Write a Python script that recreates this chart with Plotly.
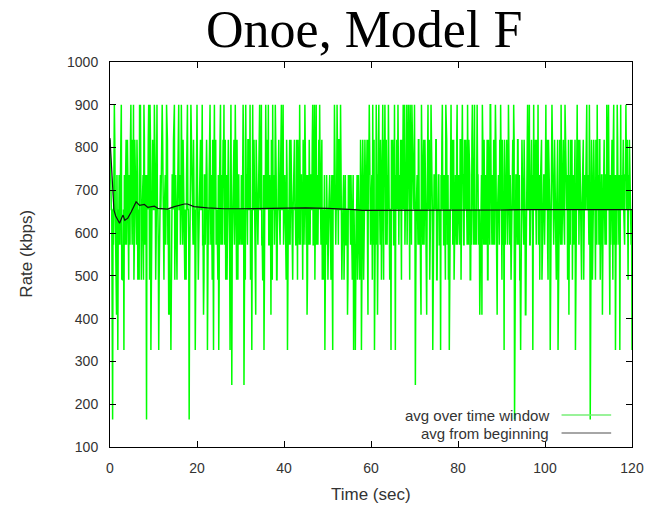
import itertools
import plotly.graph_objects as go

# Discrete rate levels (kbps) seen in the "avg over time window" trace
LEVELS = [164, 245, 327, 409, 491, 573, 655, 736, 818, 900]
SAMPLE_STEP = 0.1  # seconds between samples

# Level index per sample (digit -> LEVELS[digit]); one string per 10 s.
# WINDOW_A holds samples at t = 0.0, 0.2, 0.4 ... ; WINDOW_B those at t = 0.1, 0.3, 0.5 ...
WINDOW_A = [
    "8760596572" "5679542675" "8675968957" "6845994679" "5706879268",
    "6975962578" "9647598653" "2678956479" "6597864579" "6059768526",
    "9657869547" "6826795682" "9756427965" "8964758629" "1675968476",
    "6759169758" "6952967486" "5796954279" "6895637965" "9746857969",
    "6758267586" "4786578695" "7685967468" "5769596975" "8967465267",
    "6576472697" "6958697564" "7563765746" "2526756482" "6758675896",
    "6795269759" "6847689567" "9562785926" "7956846975" "6979695976",
    "9167586496" "7586376859" "6257684675" "2697569864" "2697586759",
    "6758697568" "6957468759" "6597635796" "8576486975" "6859637689",
    "6852678596" "7468906758" "6426758637" "9695762968" "5796478567",
    "6975862697" "5864726857" "6859764865" "7865726975" "8647856796",
    "6906758647" "9658673685" "7969576849" "6279652976" "8579647865",
    "2",
]
WINDOW_B = [
    "7646785346" "7584467586" "7468756486" "5764865748" "6576948576",
    "6847654767" "8467685364" "5769475686" "7685746486" "5478657647",
    "7468675375" "6745867467" "6865749576" "7586476576" "5786746756",
    "5678647686" "7467685375" "6867547468" "7657684676" "8467658675",
    "7647658675" "6765847567" "6476853756" "7685748567" "6758647656",
    "4675647685" "6758674676" "7564675647" "6546476576" "8467683765",
    "7468657386" "5769476856" "7468675678" "6576487696" "7568475867",
    "6476856365" "8675697468" "6576846756" "7865748576" "5768647685",
    "7684675867" "5687459675" "6875647385" "7658475967" "5678467568",
    "4768567685" "6576847685" "7468657358" "6756874676" "8657684675",
    "7684765786" "6756847695" "7658675378" "6476857686" "7568476867",
    "5768467685" "6784675867" "5687357685" "7658674678" "6576846756",
    "",
]

# "avg from beginning" curve
AVG_T = [0, 0.4, 0.9, 1.3, 1.8, 2.2, 2.7, 3.0, 3.4, 4.1, 4.9, 5.5, 6.0, 6.8, 7.9,
         8.7, 10.2, 11.0, 13.2, 14.8, 17.1, 17.8, 19.3, 22.4, 26.2, 30, 35, 40,
         45, 50, 54, 56, 58, 62, 70, 80, 90, 96, 105, 112, 120]
AVG_V = [822, 730, 654, 640, 632, 623, 636, 642, 630, 635, 650, 664, 673, 665, 667,
         660, 663, 658, 656, 662, 668, 668, 662, 659, 657, 657, 658, 658,
         659, 658, 657, 655, 653, 653, 654, 654, 654, 655, 655, 655, 655]

X_TICKS = [0, 20, 40, 60, 80, 100, 120]
Y_TICKS = [100, 200, 300, 400, 500, 600, 700, 800, 900, 1000]

codes = "".join(
    "".join(p + q for p, q in itertools.zip_longest(a, b, fillvalue=""))
    for a, b in zip(WINDOW_A, WINDOW_B)
)
win_v = [LEVELS[int(c)] for c in codes]
win_t = [i * SAMPLE_STEP for i in range(len(win_v))]

fig = go.Figure()
fig.add_trace(go.Scatter(x=win_t, y=win_v, mode="lines",
                         line=dict(color="#00ff00", width=1.5),
                         name="avg over time window", showlegend=False))
fig.add_trace(go.Scatter(x=AVG_T, y=AVG_V, mode="lines",
                         line=dict(color="#111111", width=1.2),
                         name="avg from beginning", showlegend=False))

L, R, T, B = 110, 20, 62, 58
W, H = 656, 505
PW, PH = W - L - R, H - T - B

def px(x):
    return (x - L) / PW

def py(y):
    return (H - B - y) / PH

sans = "Liberation Sans, Arial, Helvetica, sans-serif"
axis_common = dict(showgrid=False, zeroline=False, showline=True,
                   linecolor="black", linewidth=1, mirror="ticks",
                   ticks="inside", ticklen=6, tickwidth=1, tickcolor="black",
                   tickfont=dict(family=sans, size=14, color="#333333"))

fig.update_layout(
    width=W, height=H,
    margin=dict(l=L, r=R, t=T, b=B),
    paper_bgcolor="white", plot_bgcolor="white",
    xaxis=dict(range=[0, 120], tickvals=X_TICKS, ticklabelstandoff=8, **axis_common),
    yaxis=dict(range=[100, 1000], tickvals=Y_TICKS, ticklabelstandoff=8, **axis_common),
)

annotations = [
    dict(text="Onoe, Model F", xref="paper", yref="paper", x=px(366), y=py(29),
         xanchor="center", yanchor="middle", showarrow=False,
         font=dict(family="Liberation Serif, Times New Roman, serif", size=52, color="black")),
    dict(text="Time (sec)", xref="paper", yref="paper", x=px(373), y=py(494),
         xanchor="center", yanchor="middle", showarrow=False,
         font=dict(family=sans, size=17, color="#333333")),
    dict(text="Rate (kbps)", xref="paper", yref="paper", x=px(25), y=py(254),
         xanchor="center", yanchor="middle", showarrow=False, textangle=-90,
         font=dict(family=sans, size=17, color="#333333")),
    dict(text="avg over time window", xref="paper", yref="paper", x=px(554), y=py(415),
         xanchor="right", yanchor="middle", showarrow=False,
         font=dict(family=sans, size=15, color="#333333")),
    dict(text="avg from beginning", xref="paper", yref="paper", x=px(554), y=py(433),
         xanchor="right", yanchor="middle", showarrow=False,
         font=dict(family=sans, size=15, color="#333333")),
]
fig.update_layout(annotations=annotations)

fig.add_shape(type="line", xref="paper", yref="paper", x0=px(565), x1=px(615),
              y0=py(415), y1=py(415), line=dict(color="#77ee77", width=1.5))
fig.add_shape(type="line", xref="paper", yref="paper", x0=px(565), x1=px(615),
              y0=py(433), y1=py(433), line=dict(color="#888888", width=1.5))

fig.write_html("out.html")
